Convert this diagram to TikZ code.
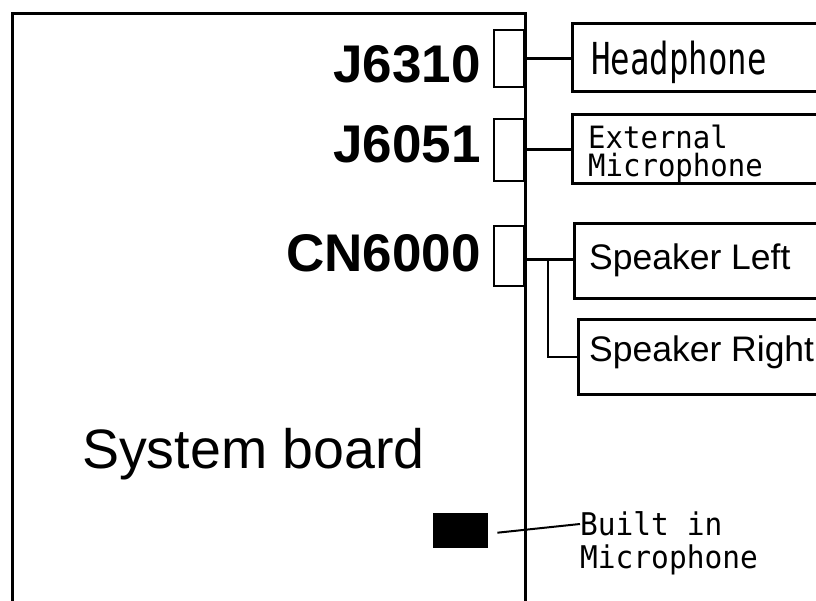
\documentclass[tikz,border=0pt]{standalone}
\usepackage{fontspec}
\setmainfont{Liberation Sans}
\newfontfamily\monofont{DejaVu Sans Mono}
\usetikzlibrary{calc}
\tikzset{
  conbox/.style={draw, line width=1.8pt, inner sep=0, minimum width=30pt},
  devbox/.style={draw, line width=2.8pt, inner sep=0, minimum width=300pt, anchor=north west},
  reflbl/.style={inner sep=0, anchor=base east, font=\fontsize{53}{60}\selectfont\bfseries},
  wire/.style={line width=2.8pt},
  txt/.style={inner sep=0, anchor=base west}
}
\begin{document}
\begin{tikzpicture}[x=1pt,y=-1pt]
\useasboundingbox (0,0) rectangle (816,601);
\clip (0,0) rectangle (816,601);
% system board
\draw[line width=3pt] (12,640) -- (12,14) -- (525,14) -- (525,640);
\node[txt, font=\fontsize{55.5}{60}\selectfont] (sb) at (82,468) {System board};
% connectors on the board edge
\node[conbox, minimum height=57pt, anchor=north east] (j6310) at (525,29) {};
\node[conbox, minimum height=62pt, anchor=north east] (j6051) at (525,118) {};
\node[conbox, minimum height=60pt, anchor=north east] (cn) at (525,225) {};
\node[reflbl] (lj6310) at (481,83) {J6310};
\node[reflbl] (lj6051) at (481,163) {J6051};
\node[reflbl] (lcn) at (481,272) {CN6000};
% devices
\node[devbox, minimum height=68pt] (hp) at (571,22) {};
\node[devbox, minimum height=69pt] (ext) at (571,113) {};
\node[devbox, minimum height=75pt] (spl) at (573,222) {};
\node[devbox, minimum height=75pt] (spr) at (577,318) {};
\node[txt, font=\monofont\fontsize{32.4}{36}\selectfont] (thp) at (591,75) {\scalebox{1}[1.36]{Headphone}};
\node[txt, font=\monofont\fontsize{29}{28}\selectfont] (text) at (588,149)
  {\vtop{\baselineskip=28pt\lineskiplimit=-60pt\hbox{\scalebox{1}[1.06]{External}}\hbox{\scalebox{1}[1.06]{Microphone}}}};
\node[txt, font=\fontsize{35.5}{40}\selectfont] (tspl) at (589,270) {Speaker Left};
\node[txt, font=\fontsize{35.5}{40}\selectfont] (tspr) at (589,361) {Speaker Right};
% wires
\draw[wire] (j6310.east) -- (j6310.east -| hp.west);
\draw[wire] (j6051.east) -- (j6051.east -| ext.west);
\draw[wire] (cn.east) ++(0,4) coordinate (cnw) -- (cnw -| spl.west);
\coordinate (br) at ($(cnw)+(23,0)$);
\draw[wire] (br) |- (spr.west);
% built-in microphone
\node[fill=black, inner sep=0, minimum width=55pt, minimum height=35pt, anchor=north west] (mic) at (433,513) {};
\node[txt, font=\monofont\fontsize{29.5}{33}\selectfont] (tbi) at (580,535)
  {\vtop{\baselineskip=33pt\lineskiplimit=-60pt\hbox{\scalebox{1}[1.06]{Built in}}\hbox{\scalebox{1}[1.06]{Microphone}}}};
\coordinate (m1) at ($(mic.east)+(9,2)$);
\coordinate (m2) at (580,524);
\draw[line width=2pt] (m1) -- (m2);
\end{tikzpicture}
\end{document}
